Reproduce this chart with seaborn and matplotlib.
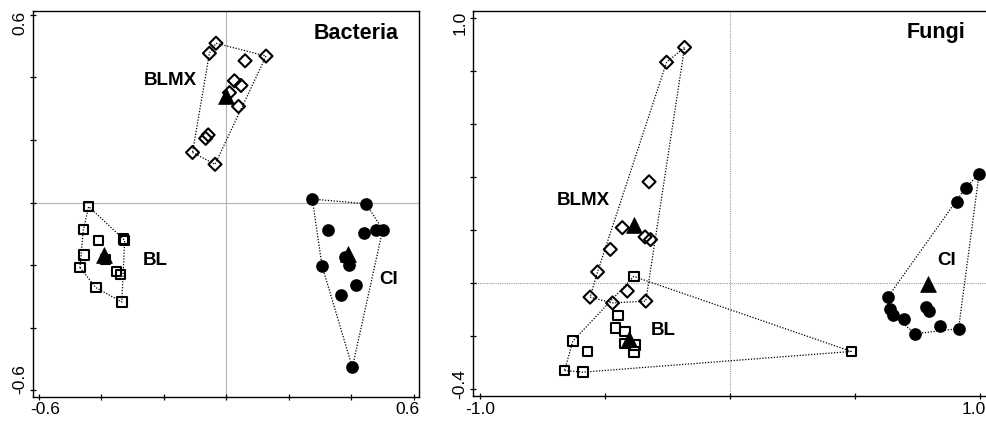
import numpy as np
import matplotlib
matplotlib.use("Agg")
import matplotlib.pyplot as plt
import matplotlib.transforms as mtransforms
import seaborn as sns

# ---- Bacteria ordination scores ----
bac_blmx_x = [-0.033, -0.054, 0.060, 0.127, 0.026, 0.047, 0.010, 0.039, -0.058, -0.066, -0.108, -0.036]
bac_blmx_y = [0.509, 0.477, 0.453, 0.468, 0.389, 0.374, 0.351, 0.307, 0.216, 0.205, 0.160, 0.122]
bac_bl_x = [-0.440, -0.457, -0.409, -0.329, -0.325, -0.455, -0.468, -0.387, -0.351, -0.338, -0.417, -0.334]
bac_bl_y = [-0.013, -0.087, -0.122, -0.117, -0.121, -0.168, -0.208, -0.183, -0.220, -0.231, -0.272, -0.318]
bac_ci_x = [0.275, 0.447, 0.326, 0.440, 0.477, 0.500, 0.379, 0.393, 0.306, 0.415, 0.366, 0.403]
bac_ci_y = [0.011, -0.004, -0.089, -0.096, -0.087, -0.087, -0.175, -0.199, -0.202, -0.265, -0.295, -0.527]
bac_centroid_x = [-0.002, -0.392, 0.390]   # BLMX, BL, CI
bac_centroid_y = [0.339, -0.167, -0.164]

# ---- Fungi ordination scores ----
fun_blmx_x = [-0.183, -0.255, -0.325, -0.432, -0.341, -0.319, -0.480, -0.531, -0.412, -0.561, -0.471, -0.338]
fun_blmx_y = [0.890, 0.834, 0.383, 0.210, 0.175, 0.165, 0.128, 0.043, -0.029, -0.052, -0.074, -0.067]
fun_bl_x = [-0.386, -0.449, -0.460, -0.422, -0.571, -0.630, -0.663, -0.589, 0.484, -0.424, -0.382, -0.386]
fun_bl_y = [0.026, -0.122, -0.168, -0.181, -0.257, -0.218, -0.329, -0.335, -0.257, -0.228, -0.232, -0.259]
fun_ci_x = [0.995, 0.941, 0.906, 0.630, 0.640, 0.652, 0.693, 0.740, 0.839, 0.913, 0.782, 0.796]
fun_ci_y = [0.412, 0.360, 0.305, -0.052, -0.098, -0.121, -0.136, -0.190, -0.162, -0.171, -0.089, -0.105]
fun_centroid_x = [-0.386, -0.405, 0.792]   # BLMX, BL, CI
fun_centroid_y = [0.219, -0.209, -0.001]

groups = ["BLMX", "BL", "CI"]
bac_label_x = [-0.178, -0.227, 0.519]
bac_label_y = [0.389, -0.185, -0.245]
fun_label_x = [-0.589, -0.269, 0.867]
fun_label_y = [0.314, -0.177, 0.088]

bac_ticks_x = [-0.6, -0.4, -0.2, 0.0, 0.2, 0.4, 0.6]
bac_ticks_y = [-0.6, -0.4, -0.2, 0.0, 0.2, 0.4, 0.6]
bac_ticklabels = ["-0.6", "", "", "", "", "", "0.6"]
fun_ticks_x = [-1.0, -0.5, 0.0, 0.5, 1.0]
fun_ticklabels_x = ["-1.0", "", "", "", "1.0"]
fun_ticks_y = [-0.4, -0.2, 0.0, 0.2, 0.4, 0.6, 0.8, 1.0]
fun_ticklabels_y = ["-0.4", "", "", "", "", "", "", "1.0"]

sns.set_theme(style="white")
plt.rcParams["font.family"] = ["Liberation Sans", "DejaVu Sans"]
plt.rcParams["text.color"] = "black"

W, H = 986, 423
fig = plt.figure(figsize=(W / 100, H / 100), dpi=100)
fig.patch.set_facecolor("white")


def convex_hull(xs, ys):
    pts = sorted(set(zip(xs, ys)))

    def cross(o, a, b):
        return (a[0] - o[0]) * (b[1] - o[1]) - (a[1] - o[1]) * (b[0] - o[0])

    lower, upper = [], []
    for p in pts:
        while len(lower) >= 2 and cross(lower[-2], lower[-1], p) <= 0:
            lower.pop()
        lower.append(p)
    for p in reversed(pts):
        while len(upper) >= 2 and cross(upper[-2], upper[-1], p) <= 0:
            upper.pop()
        upper.append(p)
    h = lower[:-1] + upper[:-1]
    h.append(h[0])
    return [p[0] for p in h], [p[1] for p in h]


def draw_panel(ax, sets, cx, cy, zero_style):
    ax.axhline(0, zorder=0, **zero_style)
    ax.axvline(0, zorder=0, **zero_style)
    styles = [("D", 44, "none"), ("s", 46, "none"), ("o", 58, "black")]
    for (xs, ys), (mk, sz, fc) in zip(sets, styles):
        hx, hy = convex_hull(xs, ys)
        ax.plot(hx, hy, color="black", lw=0.9, linestyle=(0, (1, 1.3)), zorder=2)
        sns.scatterplot(x=xs, y=ys, ax=ax, marker=mk, s=sz, color="black",
                        facecolor=fc, edgecolor="black", linewidth=1.5, zorder=3)
    sns.scatterplot(x=cx, y=cy, ax=ax, marker="^", s=130, color="black",
                    edgecolor="black", linewidth=0.5, zorder=4)
    ax.set_xlabel("")
    ax.set_ylabel("")
    for sp in ax.spines.values():
        sp.set_color("black")
        sp.set_linewidth(1.0)
    ax.tick_params(axis="both", direction="inout", length=4.5, width=0.9,
                   color="black", labelsize=12.5, labelcolor="black",
                   bottom=True, left=True, pad=2)
    ax.set_facecolor("white")


def shift_label(label, fig, dx_px, dy_px):
    off = mtransforms.ScaledTranslation(dx_px / 100, dy_px / 100, fig.dpi_scale_trans)
    label.set_transform(label.get_transform() + off)


# ---- Bacteria panel ----
ax1 = fig.add_axes([33.3 / W, (H - 396.5) / H, (419.3 - 33.3) / W, (396.5 - 10.7) / H])
draw_panel(ax1,
           [(bac_blmx_x, bac_blmx_y), (bac_bl_x, bac_bl_y), (bac_ci_x, bac_ci_y)],
           bac_centroid_x, bac_centroid_y,
           dict(color="#b4b4b4", lw=0.8))
ax1.set_xlim(-0.617, 0.617)
ax1.set_ylim(-0.620, 0.613)
ax1.set_xticks(bac_ticks_x, bac_ticklabels)
ax1.set_yticks(bac_ticks_y, bac_ticklabels)
for t in ax1.get_yticklabels():
    t.set_rotation(90)
    t.set_va("center")
xl = ax1.get_xticklabels()
shift_label(xl[0], fig, 7, 0)
shift_label(xl[-1], fig, -7, 0)
yl = ax1.get_yticklabels()
shift_label(yl[0], fig, 0, 11)
shift_label(yl[-1], fig, 0, -8)
for g, lx, ly in zip(groups, bac_label_x, bac_label_y):
    ax1.text(lx, ly, g, ha="center", va="center", fontsize=13.5,
             fontweight="bold", color="black")
ax1.text(0.415, 0.541, "Bacteria", ha="center", va="center", fontsize=15.5,
         fontweight="bold", color="black")

# ---- Fungi panel ----
x0, x1 = -1.028, 1.035
ax2 = fig.add_axes([473.3 / W, (H - 396.0) / H, (x1 - x0) * 250 / W, (396.0 - 10.8) / H])
draw_panel(ax2,
           [(fun_blmx_x, fun_blmx_y), (fun_bl_x, fun_bl_y), (fun_ci_x, fun_ci_y)],
           fun_centroid_x, fun_centroid_y,
           dict(color="#9a9a9a", lw=0.8, linestyle=(0, (1, 1))))
ax2.set_xlim(x0, x1)
ax2.set_ylim(-0.425, 1.028)
ax2.set_xticks(fun_ticks_x, fun_ticklabels_x)
ax2.set_yticks(fun_ticks_y, fun_ticklabels_y)
for t in ax2.get_yticklabels():
    t.set_rotation(90)
    t.set_va("center")
xl2 = ax2.get_xticklabels()
shift_label(xl2[-1], fig, -7, 0)
yl2 = ax2.get_yticklabels()
shift_label(yl2[0], fig, 0, 5)
shift_label(yl2[-1], fig, 0, -5)
for g, lx, ly in zip(groups, fun_label_x, fun_label_y):
    ax2.text(lx, ly, g, ha="center", va="center", fontsize=13.5,
             fontweight="bold", color="black")
ax2.text(0.822, 0.945, "Fungi", ha="center", va="center", fontsize=15.5,
         fontweight="bold", color="black")

fig.savefig("out.png", dpi=100, facecolor="white")
